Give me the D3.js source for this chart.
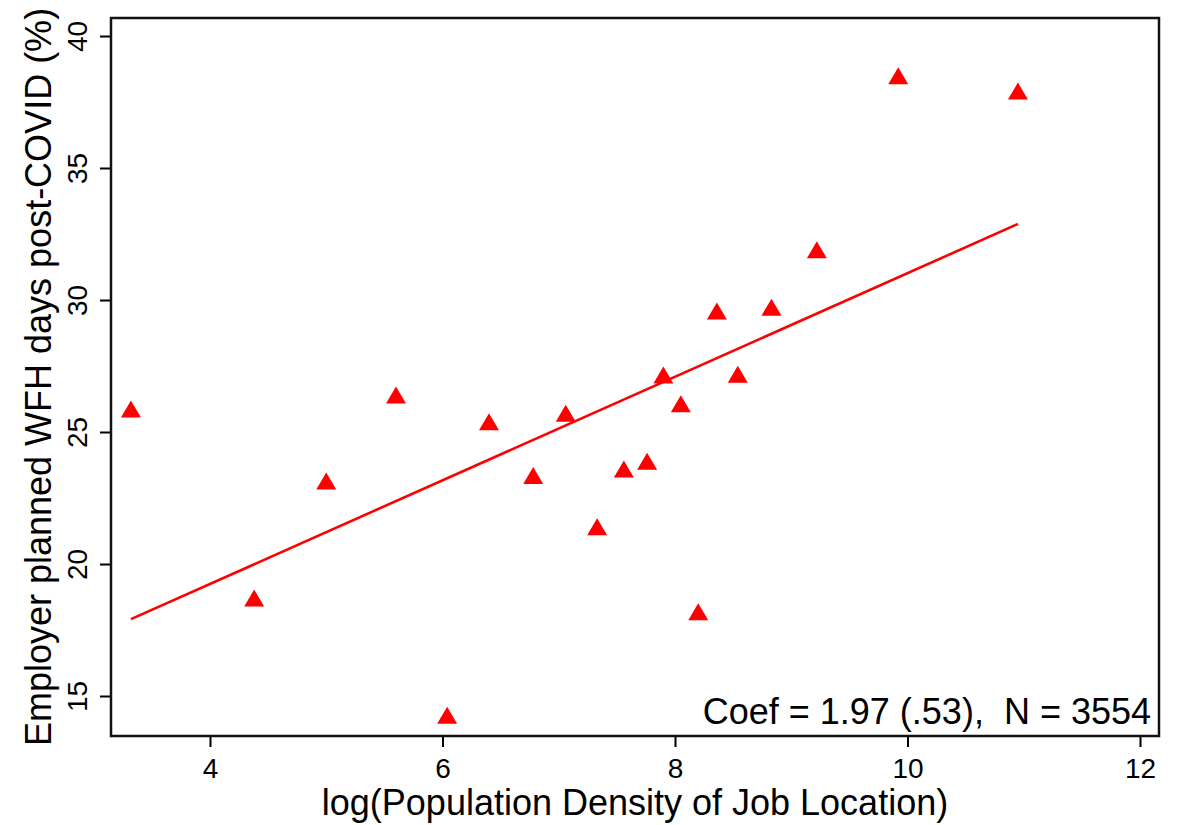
<!DOCTYPE html>
<html lang="en">
<head>
	<meta charset="UTF-8">
	<script src="https://cdn.jsdelivr.net/npm/d3@7"></script>
	<title>WFH vs density</title>
	<style>
		body { margin: 0; background: #fff; }
		text { font-family: "Liberation Sans", Arial, Helvetica, sans-serif; fill: #000; }
	</style>
</head>
<body>
	<div id="draw-here"></div>
	<script>
		/*chart values*/
		var logDensity = [3.32, 4.38, 5.00, 5.60, 6.04, 6.40, 6.78, 7.06, 7.33, 7.56,
			7.76, 7.90, 8.05, 8.20, 8.36, 8.54, 8.83, 9.22, 9.92, 10.95];
		var wfhDays = [25.87, 18.71, 23.14, 26.40, 14.27, 25.39, 23.35, 25.71, 21.41, 23.60,
			23.89, 27.16, 26.07, 18.19, 29.58, 27.19, 29.73, 31.90, 38.49, 37.92];
		var fitX = [3.32, 10.95];
		var fitY = [17.91, 32.88];
		var xTicks = [4, 6, 8, 10, 12];
		var yTicks = [15, 20, 25, 30, 35, 40];
		var xTitle = "log(Population Density of Job Location)";
		var yTitle = "Employer planned WFH days post-COVID (%)";
		var note = "Coef = 1.97 (.53),  N = 3554";

		/*size of chart*/
		var w = 1182, h = 825;
		var plotLeft = 111, plotRight = 1159, plotTop = 18, plotBottom = 736;

		var svg = d3.select("#draw-here")
			.append("svg")
			.attr("width", w)
			.attr("height", h);

		var x = d3.scaleLinear().domain([3.1484, 12.1634]).range([plotLeft, plotRight]);
		var y = d3.scaleLinear().domain([13.485, 40.682]).range([plotBottom, plotTop]);

		/*axes*/
		var xAxis = svg.append("g")
			.attr("transform", "translate(0," + plotBottom + ")")
			.call(d3.axisBottom(x).tickValues(xTicks).tickSize(11).tickSizeOuter(0));
		xAxis.attr("font-size", null).attr("font-family", null);
		xAxis.select(".domain").remove();
		xAxis.selectAll("line").attr("stroke", "#000").attr("stroke-width", 2);
		xAxis.selectAll("text")
			.attr("y", 42).attr("dy", 0)
			.style("font-size", "28px");

		var yAxis = svg.append("g")
			.attr("transform", "translate(" + plotLeft + ",0)")
			.call(d3.axisLeft(y).tickValues(yTicks).tickSize(11).tickSizeOuter(0));
		yAxis.attr("font-size", null).attr("font-family", null);
		yAxis.select(".domain").remove();
		yAxis.selectAll("line").attr("stroke", "#000").attr("stroke-width", 2);
		yAxis.selectAll("text")
			.attr("transform", "rotate(-90)")
			.attr("x", 0).attr("y", -24).attr("dy", 0)
			.attr("text-anchor", "middle")
			.style("font-size", "28px");

		/*frame*/
		svg.append("rect")
			.attr("x", plotLeft).attr("y", plotTop)
			.attr("width", plotRight - plotLeft).attr("height", plotBottom - plotTop)
			.attr("fill", "none")
			.attr("stroke", "#111")
			.attr("stroke-width", 2.5);

		/*fitted line*/
		svg.append("line")
			.attr("x1", x(fitX[0])).attr("y1", y(fitY[0]))
			.attr("x2", x(fitX[1])).attr("y2", y(fitY[1]))
			.attr("stroke", "#ff0000")
			.attr("stroke-width", 2.6);

		/*triangle markers*/
		var points = logDensity.map(function(d, i) { return [d, wfhDays[i]]; });
		svg.selectAll("path.pt")
			.data(points)
			.enter()
			.append("path")
			.attr("class", "pt")
			.attr("d", "M0,-8.5L10,8.5L-10,8.5Z")
			.attr("fill", "#ff0000")
			.attr("transform", function(d) {
				return "translate(" + x(d[0]) + "," + y(d[1]) + ")";
			});

		/*titles and note*/
		svg.append("text")
			.attr("x", (plotLeft + plotRight) / 2).attr("y", 815)
			.attr("text-anchor", "middle")
			.style("font-size", "36px")
			.text(xTitle);

		svg.append("text")
			.attr("transform", "translate(51," + (plotTop + plotBottom) / 2 + ") rotate(-90)")
			.attr("text-anchor", "middle")
			.style("font-size", "36px")
			.text(yTitle);

		svg.append("text")
			.attr("x", 1151).attr("y", 724)
			.attr("text-anchor", "end")
			.style("font-size", "36px")
			.style("white-space", "pre")
			.text(note);
	</script>
</body>
</html>
